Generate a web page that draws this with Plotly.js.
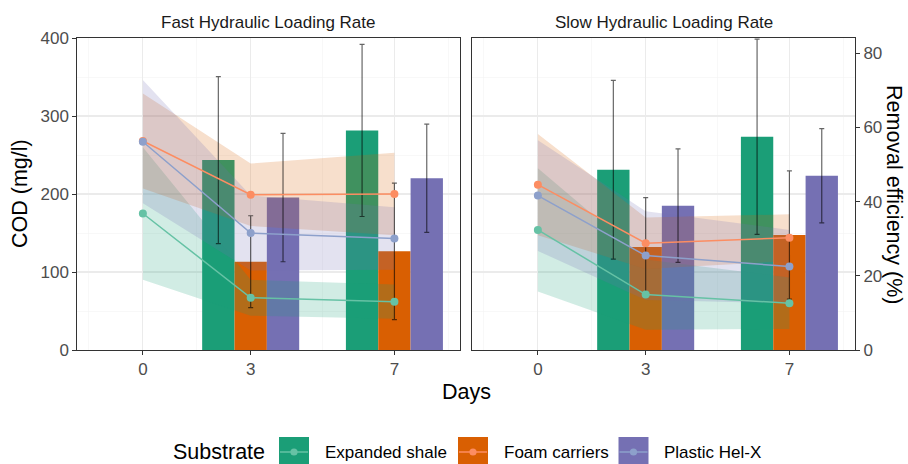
<!DOCTYPE html>
<html><head><meta charset="utf-8">
<script src="https://cdn.plot.ly/plotly-3.0.1.min.js"></script>
<style>html,body{margin:0;padding:0;background:#fff}#chart{width:908px;height:464px}</style>
</head><body><div id="chart"></div>
<script>
// ---------------- data ----------------
const days = [0, 3, 7];
const barDays = [3, 7];
const dayTicks = ['0', '3', '7'];
const substrates = ['Expanded shale', 'Foam carriers', 'Plastic Hel-X'];
const panelTitles = ['Fast Hydraulic Loading Rate', 'Slow Hydraulic Loading Rate'];

// COD (mg/l): mean line and ribbon half-width, per substrate
const codFastShale = [175, 67, 62];
const codFastShaleSd = [85, 23, 22];
const codFastFoam = [268, 199, 200];
const codFastFoamSd = [61, 40, 53];
const codFastHelx = [267, 150, 143];
const codFastHelxSd = [79, 48, 40];

const codSlowShale = [154, 71, 60];
const codSlowShaleSd = [79, 45, 33];
const codSlowFoam = [212, 137, 144];
const codSlowFoamSd = [65, 33, 30];
const codSlowHelx = [198, 121, 107];
const codSlowHelxSd = [71, 57, 47];

// Removal efficiency (%): bar means and error half-widths
const remFastShale = [51.2, 59.2];
const remFastShaleSd = [22.5, 23.2];
const remFastFoam = [23.8, 26.6];
const remFastFoamSd = [12.4, 18.4];
const remFastHelx = [41.1, 46.3];
const remFastHelxSd = [17.3, 14.6];

const remSlowShale = [48.6, 57.5];
const remSlowShaleSd = [24.1, 26.3];
const remSlowFoam = [27.8, 31.0];
const remSlowFoamSd = [13.3, 17.3];
const remSlowHelx = [38.9, 47.0];
const remSlowHelxSd = [15.3, 12.7];

// ---------------- scales & styling ----------------
const COD_MAX = 400;
const PCT_MAX = 84.12;                 // secondary axis: % = COD / (COD_MAX / PCT_MAX)
const secFactor = COD_MAX / PCT_MAX;
const toPrimary = arr => arr.map(v => v * secFactor);

const barFill = ['#1b9e77', '#d95f02', '#7570b3'];
const lineCol = ['#66c2a5', '#fc8d62', '#8da0cb'];
const ribbonCol = ['rgba(27,158,119,0.2)', 'rgba(217,95,2,0.2)', 'rgba(117,112,179,0.2)'];
const dodge = [-1.35, -0.45, 0.45];
const barWidth = 0.9;
const FONT = 'Liberation Sans, Arial, sans-serif';
const W = 908, H = 464;
const px = v => v / W;
const py = v => 1 - v / H;

const panels = [
  {cod: [codFastShale, codFastFoam, codFastHelx], codSd: [codFastShaleSd, codFastFoamSd, codFastHelxSd],
   rem: [remFastShale, remFastFoam, remFastHelx], remSd: [remFastShaleSd, remFastFoamSd, remFastHelxSd],
   xa: 'x', ya: 'y'},
  {cod: [codSlowShale, codSlowFoam, codSlowHelx], codSd: [codSlowShaleSd, codSlowFoamSd, codSlowHelxSd],
   rem: [remSlowShale, remSlowFoam, remSlowHelx], remSd: [remSlowShaleSd, remSlowFoamSd, remSlowHelxSd],
   xa: 'x2', ya: 'y2'}
];

const traces = [];
panels.forEach(p => {
  // bars: removal efficiency, drawn on the secondary (%) scale
  substrates.forEach((s, i) => {
    traces.push({
      type: 'bar', name: s, x: barDays, y: toPrimary(p.rem[i]), width: barWidth, offset: dodge[i],
      marker: {color: barFill[i], line: {width: 0}},
      xaxis: p.xa, yaxis: p.ya, showlegend: false, hoverinfo: 'skip'
    });
  });
  // ribbons (COD)
  substrates.forEach((s, i) => {
    const up = p.cod[i].map((v, k) => v + p.codSd[i][k]);
    const lo = p.cod[i].map((v, k) => v - p.codSd[i][k]);
    traces.push({
      type: 'scatter', mode: 'lines', name: s,
      x: days.concat(days.slice().reverse()),
      y: up.concat(lo.slice().reverse()),
      fill: 'toself', fillcolor: ribbonCol[i], line: {width: 0, color: 'rgba(0,0,0,0)'},
      xaxis: p.xa, yaxis: p.ya, showlegend: false, hoverinfo: 'skip'
    });
  });
  // error bars of the bars
  substrates.forEach((s, i) => {
    traces.push({
      type: 'scatter', mode: 'markers', name: s,
      x: barDays.map(d => d + dodge[i] + barWidth / 2), y: toPrimary(p.rem[i]),
      marker: {size: 1, color: 'rgba(0,0,0,0)'},
      error_y: {type: 'data', array: toPrimary(p.remSd[i]), visible: true, color: 'rgba(0,0,0,0.6)', thickness: 1.2, width: 2.5},
      xaxis: p.xa, yaxis: p.ya, showlegend: false, hoverinfo: 'skip'
    });
  });
  // lines (COD)
  substrates.forEach((s, i) => {
    traces.push({
      type: 'scatter', mode: 'lines+markers', name: s, x: days, y: p.cod[i],
      line: {color: lineCol[i], width: 1.5}, marker: {color: lineCol[i], size: 8},
      xaxis: p.xa, yaxis: p.ya, showlegend: false, hoverinfo: 'skip'
    });
  });
});
// secondary axis holder (no marks)
traces.push({type: 'scatter', mode: 'markers', x: [], y: [], xaxis: 'x2', yaxis: 'y3', showlegend: false, hoverinfo: 'skip'});

const tickFont = {family: FONT, size: 17, color: '#4d4d4d'};
const gridMajor = '#ebebeb', gridMinor = '#f4f4f4';
function xAxis(dom, anchor) {
  return {
    domain: dom, anchor: anchor, range: [-1.825, 8.825],
    tickmode: 'array', tickvals: days, ticktext: dayTicks,
    ticks: 'outside', ticklen: 4, tickwidth: 1, tickcolor: '#333333', tickfont: tickFont,
    showgrid: true, gridcolor: gridMajor, gridwidth: 1.1,
    minor: {tickmode: 'array', tickvals: [-1.5, 1.5, 5, 8.5], showgrid: true, gridcolor: gridMinor, gridwidth: 0.6, ticks: ''},
    showline: true, mirror: true, linecolor: '#333333', linewidth: 1, zeroline: false, fixedrange: true
  };
}
function yAxis(anchor, showLabels) {
  return {
    domain: [py(350), py(38)], anchor: anchor, range: [0, COD_MAX], tickmode: 'linear', tick0: 0, dtick: 100,
    ticks: showLabels ? 'outside' : '', ticklen: 4, tickcolor: '#333333', tickfont: tickFont, showticklabels: showLabels,
    showgrid: true, gridcolor: gridMajor, gridwidth: 1.1,
    minor: {dtick: 50, showgrid: true, gridcolor: gridMinor, gridwidth: 0.6, ticks: ''},
    showline: true, mirror: true, linecolor: '#333333', linewidth: 1, zeroline: false, fixedrange: true
  };
}
const layout = {
  width: W, height: H, margin: {l: 0, r: 0, t: 0, b: 0},
  paper_bgcolor: '#ffffff', plot_bgcolor: '#ffffff',
  font: {family: FONT, color: '#000000'},
  barmode: 'overlay', showlegend: false,
  xaxis: xAxis([px(77.3), px(460)], 'y'),
  xaxis2: xAxis([px(472.3), px(855)], 'y2'),
  yaxis: yAxis('x', true),
  yaxis2: yAxis('x2', false),
  yaxis3: {overlaying: 'y2', anchor: 'x2', side: 'right', range: [0, PCT_MAX], tickmode: 'linear', tick0: 0, dtick: 20,
           ticks: 'outside', ticklen: 4, tickcolor: '#333333', tickfont: tickFont,
           showgrid: false, zeroline: false, showline: false, fixedrange: true},
  annotations: [], shapes: []
};

// strip titles and axis titles
layout.annotations.push(
  {text: panelTitles[0], xref: 'paper', yref: 'paper', x: px((77.3 + 460) / 2), y: py(22), showarrow: false,
   xanchor: 'center', yanchor: 'middle', font: {family: FONT, size: 17, color: '#1a1a1a'}},
  {text: panelTitles[1], xref: 'paper', yref: 'paper', x: px((472.3 + 855) / 2), y: py(22), showarrow: false,
   xanchor: 'center', yanchor: 'middle', font: {family: FONT, size: 17, color: '#1a1a1a'}},
  {text: 'COD (mg/l)', xref: 'paper', yref: 'paper', x: px(20), y: py(194), textangle: -90, showarrow: false,
   xanchor: 'center', yanchor: 'middle', font: {family: FONT, size: 21.5, color: '#000000'}},
  {text: 'Removal efficiency (%)', xref: 'paper', yref: 'paper', x: px(894), y: py(194), textangle: 90, showarrow: false,
   xanchor: 'center', yanchor: 'middle', font: {family: FONT, size: 21.5, color: '#000000'}},
  {text: 'Days', xref: 'paper', yref: 'paper', x: px(466), y: py(392), showarrow: false,
   xanchor: 'center', yanchor: 'middle', font: {family: FONT, size: 21.5, color: '#000000'}},
  {text: 'Substrate', xref: 'paper', yref: 'paper', x: px(171), y: py(452), showarrow: false,
   xanchor: 'left', yanchor: 'middle', font: {family: FONT, size: 21.5, color: '#000000'}}
);

// legend keys
const keyLeft = [279, 458, 618.5];
substrates.forEach((s, i) => {
  const x0 = keyLeft[i], x1 = x0 + 30, yc = 452;
  layout.shapes.push(
    {type: 'rect', xref: 'paper', yref: 'paper', x0: px(x0), x1: px(x1), y0: py(yc + 15), y1: py(yc - 15),
     fillcolor: barFill[i], line: {width: 0}, layer: 'above'},
    {type: 'line', xref: 'paper', yref: 'paper', x0: px(x0 + 1), x1: px(x1 - 1), y0: py(yc), y1: py(yc),
     line: {color: lineCol[i], width: 1.5}, layer: 'above'},
    {type: 'circle', xref: 'paper', yref: 'paper', x0: px(x0 + 15 - 3.6), x1: px(x0 + 15 + 3.6),
     y0: py(yc + 3.6), y1: py(yc - 3.6), fillcolor: lineCol[i], line: {width: 0}, layer: 'above'}
  );
  layout.annotations.push({text: s, xref: 'paper', yref: 'paper', x: px(x1 + 13.5), y: py(yc), showarrow: false,
    xanchor: 'left', yanchor: 'middle', font: {family: FONT, size: 17, color: '#000000'}});
});

Plotly.newPlot('chart', traces, layout, {staticPlot: true, displayModeBar: false});
</script>
</body></html>
